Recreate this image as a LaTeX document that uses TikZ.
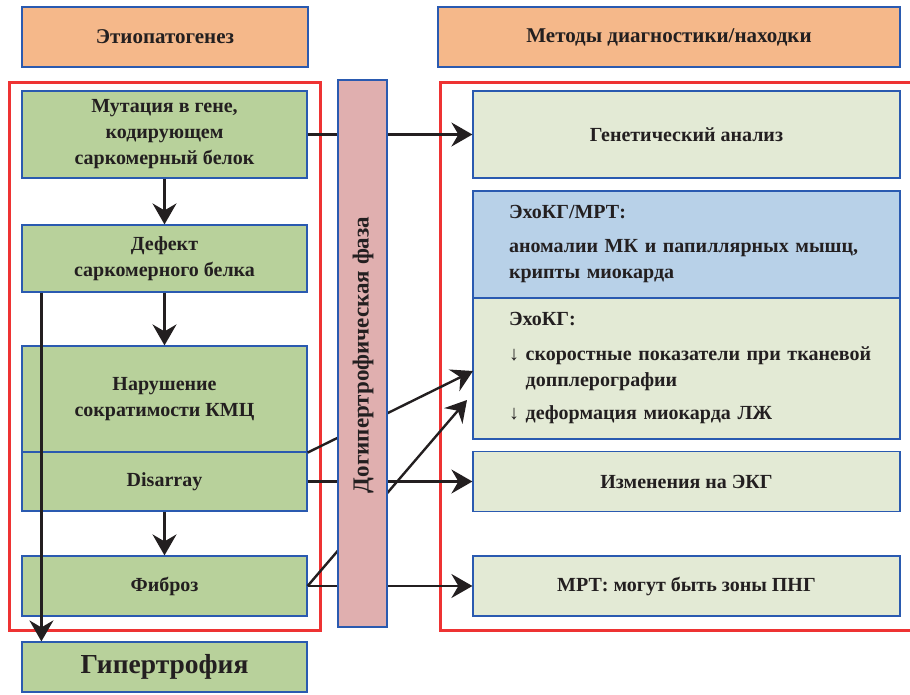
\documentclass[tikz,border=0pt]{standalone}
\usepackage{fontspec}
\setmainfont{Liberation Serif}
\usetikzlibrary{arrows.meta}
\definecolor{ink}{HTML}{231F20}
\definecolor{edge}{HTML}{2A5AB0}
\definecolor{peach}{HTML}{F5B88A}
\definecolor{leafgreen}{HTML}{B8D19B}
\definecolor{palegreen}{HTML}{E3EAD5}
\definecolor{skyblue}{HTML}{B8D1E8}
\definecolor{rosebar}{HTML}{E0AFAF}
\definecolor{framered}{HTML}{EE3333}
% left indent of the lines in the findings boxes
\newcommand\notesindent{\hspace*{25pt}}
\begin{document}
\begin{tikzpicture}[x=1pt,y=-1pt,
  font=\bfseries\fontsize{20}{26}\selectfont, text=ink,
  box/.style={draw=edge, line width=1.2pt, inner sep=0pt, align=center},
  head/.style={box, fill=peach, minimum height=60pt, font=\bfseries\fontsize{21}{26}\selectfont},
  lbox/.style={box, fill=leafgreen, minimum width=285pt},
  rbox/.style={box, fill=palegreen, minimum width=427pt},
  notes/.style={box, minimum width=427pt, text width=405pt, align=left},
  link/.style={line width=2.4pt, draw=ink, -{Stealth[length=21pt,width=24pt,inset=7pt]}},
  frame/.style={draw=framered, line width=3pt}]
\useasboundingbox (0,0) rectangle (910,694);

% column headers
\node[head, minimum width=286pt] (hleft) at (165,37) {Этиопатогенез};
\node[head, minimum width=462pt] (hright) at (669,37) {Методы диагностики/находки};

% etiopathogenesis chain
\node[lbox, minimum height=87pt] (mut) at (164.5,134.5)
  {Мутация в гене,\\кодирующем\\саркомерный белок};
\node[lbox, minimum height=67pt] (def) at (164.5,258.5)
  {Дефект\\саркомерного белка};
\node[lbox, minimum height=106pt] (nar) at (164.5,399)
  {Нарушение\\сократимости КМЦ};
\node[lbox, minimum height=59pt] (dis) at (164.5,481.5) {Disarray};
\node[lbox, minimum height=60pt] (fib) at (164.5,586) {Фиброз};
\node[lbox, minimum height=50pt, font=\bfseries\fontsize{27.5}{30}\selectfont] (hyp) at (164.5,667)
  {Гипертрофия};

% diagnostic findings
\node[rbox, minimum height=87pt] (gen) at (686.5,134.5) {Генетический анализ};
\node[notes, fill=skyblue, minimum height=107pt] (eho1) at (686.5,244.5)
  {\notesindent ЭхоКГ/МРТ:\\[8pt]
   \notesindent аномалии МК и папиллярных мышц,\\
   \notesindent крипты миокарда};
\node[notes, fill=palegreen, minimum height=141pt] (eho2) at (686.5,368.5)
  {\notesindent ЭхоКГ:\\[9pt]
   \notesindent ↓ скоростные показатели при тканевой\\
   \notesindent\phantom{↓ }допплерографии\\[7pt]
   \notesindent ↓ деформация миокарда ЛЖ};
\node[rbox, minimum height=60pt] (ekg) at (686.5,481.5) {Изменения на ЭКГ};
\node[rbox, minimum height=60pt] (mrt) at (686.5,586) {МРТ: могут быть зоны ПНГ};

% red group frames
\draw[frame] (9,82) rectangle (320,630);
\draw[frame] (912,82) -- (440,82) -- (440,630) -- (912,630);

% connectors
\coordinate (t1) at (473,371);
\coordinate (t2) at (467,400);
\draw[link] (mut) -- (def);
\draw[link] (def) -- (nar);
\draw[link] (dis) -- (fib);
\draw[link] ([xshift=20pt]def.south west) -- ([xshift=20pt]hyp.north west);
\draw[link] (mut.east) -- (gen.west);
\draw[link] (dis.east) -- (ekg.west);
\draw[link] (fib.east) -- (mrt.west);
\draw[link] (nar.south east) -- (t1);
\draw[link] (fib.east) -- (t2);

% pre-hypertrophic phase bar, over the connectors
\node[box, fill=rosebar, minimum width=49pt, minimum height=547pt] (phase) at (362.5,353.5) {};
\node[rotate=90, font=\bfseries\fontsize{23}{26}\selectfont] (phasetext) at (363,355)
  {Догипертрофическая фаза};
\end{tikzpicture}
\end{document}
